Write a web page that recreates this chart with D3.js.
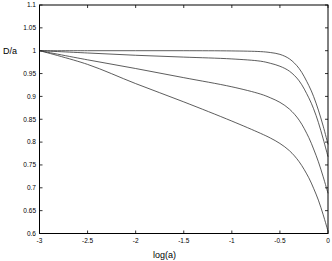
<!DOCTYPE html>
<html>
<head>
<meta charset="utf-8">
<script src="https://cdn.jsdelivr.net/npm/d3@7"></script>
<style>
  html, body { margin: 0; padding: 0; background: #fff; }
  svg { display: block; font-family: "Liberation Sans", Arial, Helvetica, sans-serif; }
</style>
</head>
<body>
<svg id="chart" width="332" height="261"></svg>
<script>
// x sample points (log a) shared by all curves
const logA = [-3, -2.5, -2, -1.5, -1, -0.7, -0.6, -0.5, -0.4, -0.3, -0.2, -0.15, -0.1, -0.05, 0];

// D/a, top curve to bottom curve
const curve1 = [1, 1, 1, 1, 0.9995, 0.998, 0.996, 0.992, 0.982, 0.961, 0.924, 0.9, 0.87, 0.835, 0.795];
const curve2 = [1, 0.995, 0.99, 0.986, 0.982, 0.977, 0.9725, 0.966, 0.955, 0.934, 0.897, 0.873, 0.843, 0.807, 0.768];
const curve3 = [1, 0.98, 0.961, 0.941, 0.921, 0.905, 0.897, 0.887, 0.872, 0.848, 0.81, 0.785, 0.757, 0.724, 0.688];
const curve4 = [1, 0.97, 0.928, 0.888, 0.846, 0.819, 0.809, 0.797, 0.781, 0.757, 0.722, 0.699, 0.673, 0.641, 0.605];

const xTicks = [-3, -2.5, -2, -1.5, -1, -0.5, 0];
const yTicks = [0.6, 0.65, 0.7, 0.75, 0.8, 0.85, 0.9, 0.95, 1, 1.05, 1.1];

const svg = d3.select("#chart");
const L = 39.5, R = 328, T = 5, B = 233.5;

const x = d3.scaleLinear().domain([-3, 0]).range([L, R]);
const y = d3.scaleLinear().domain([0.6, 1.1]).range([B, T]);

const tickLen = 3;
const fmt = d => String(d);

// inward ticks, all four sides (matlab box style)
const tg = svg.append("g").attr("stroke", "#000").attr("stroke-width", 0.8);
xTicks.forEach(t => {
    tg.append("line").attr("x1", x(t)).attr("x2", x(t)).attr("y1", B).attr("y2", B - tickLen);
    tg.append("line").attr("x1", x(t)).attr("x2", x(t)).attr("y1", T).attr("y2", T + tickLen);
});
yTicks.forEach(t => {
    tg.append("line").attr("x1", L).attr("x2", L + tickLen).attr("y1", y(t)).attr("y2", y(t));
    tg.append("line").attr("x1", R).attr("x2", R - tickLen).attr("y1", y(t)).attr("y2", y(t));
});

// tick labels
svg.append("g").selectAll("text")
    .data(xTicks)
    .join("text")
    .attr("x", d => x(d))
    .attr("y", B + 9)
    .attr("text-anchor", "middle")
    .attr("font-size", 6.5)
    .attr("fill", "#000")
    .text(fmt);

svg.append("g").selectAll("text")
    .data(yTicks)
    .join("text")
    .attr("x", L - 3.5)
    .attr("y", d => y(d))
    .attr("dy", "0.35em")
    .attr("text-anchor", "end")
    .attr("font-size", 6.5)
    .attr("fill", "#000")
    .text(fmt);

// curves
const line = d3.line()
    .x((d, i) => x(logA[i]))
    .y(d => y(d))
    .curve(d3.curveCatmullRom.alpha(0.5));

svg.append("g").selectAll("path")
    .data([curve1, curve2, curve3, curve4])
    .join("path")
    .attr("d", line)
    .attr("fill", "none")
    .attr("stroke", "#333")
    .attr("stroke-width", 0.8);

// axes box
svg.append("rect")
    .attr("x", L).attr("y", T)
    .attr("width", R - L).attr("height", B - T)
    .attr("fill", "none")
    .attr("stroke", "#000")
    .attr("stroke-width", 1);

// axis labels
svg.append("text")
    .attr("x", 3).attr("y", y(1) + 3)
    .attr("font-size", 9)
    .text("D/a");

svg.append("text")
    .attr("x", x(-1.7)).attr("y", 258)
    .attr("text-anchor", "middle")
    .attr("font-size", 9)
    .text("log(a)");
</script>
</body>
</html>
